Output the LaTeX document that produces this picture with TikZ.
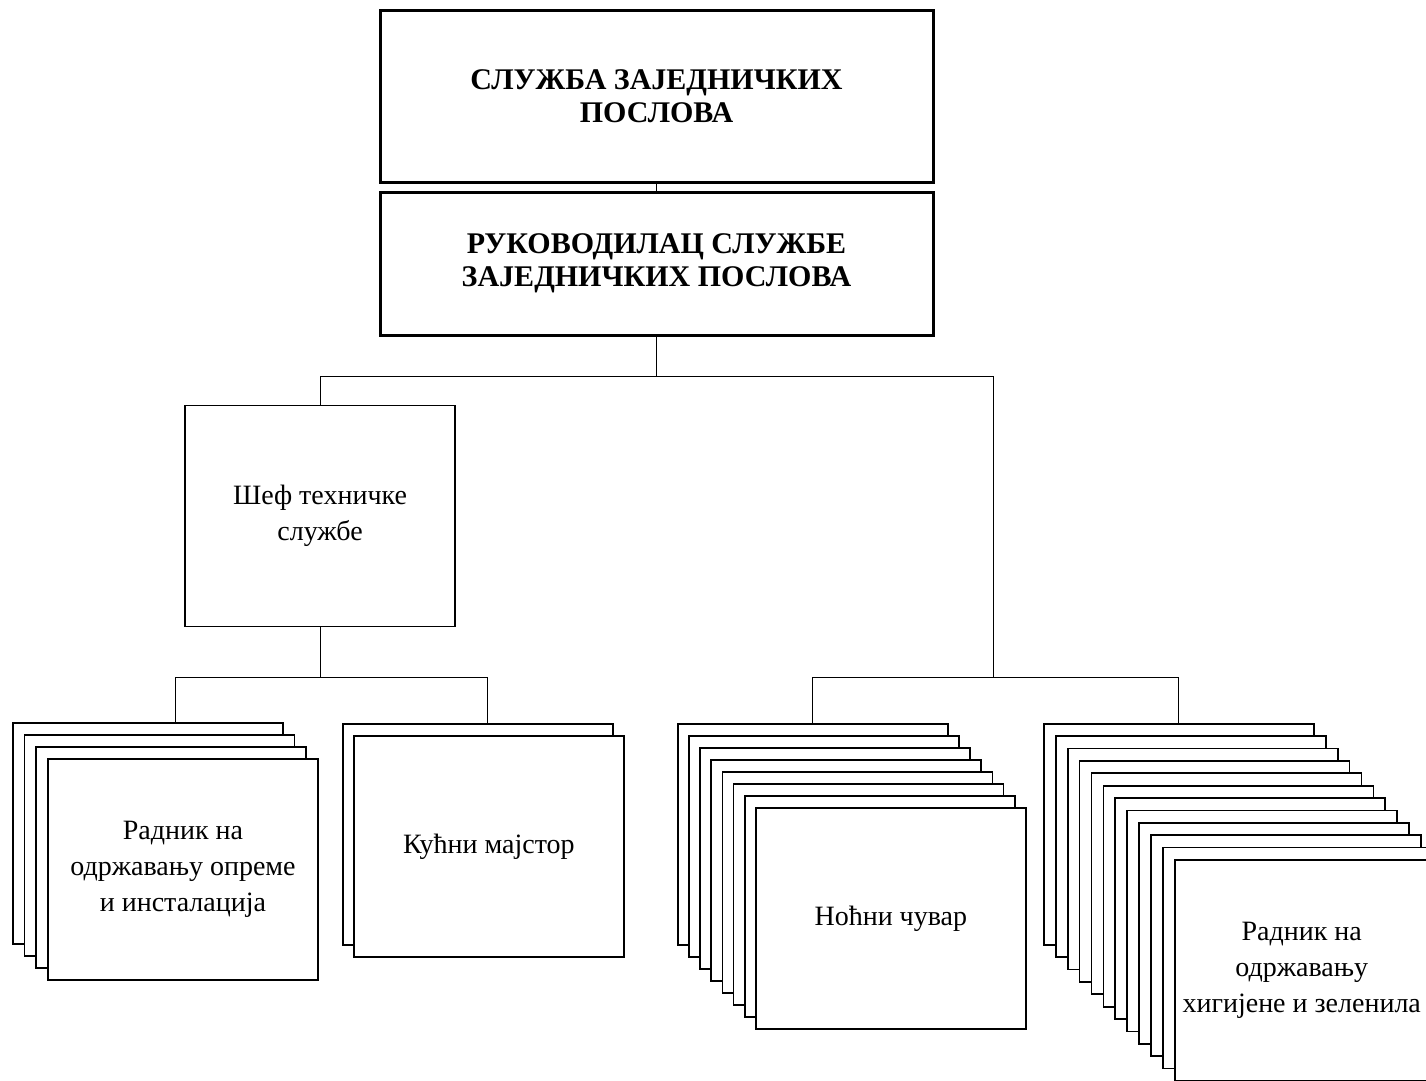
\documentclass[tikz,border=0pt]{standalone}
\usepackage{fontspec}
\setmainfont{Liberation Serif}
\usetikzlibrary{calc,positioning}

\begin{document}
\begin{tikzpicture}[x=1pt,y=-1pt]

\tikzset{headbox/.style={draw,fill=white,line width=3pt,minimum width=553pt,inner sep=0pt,align=center,font=\bfseries\fontsize{30}{33}\selectfont},
jobbox/.style={draw,fill=white,line width=1.7pt,minimum width=270pt,minimum height=221pt,inner sep=0pt,align=center,font=\fontsize{28}{36}\selectfont},
jobtext/.style={align=center,inner sep=0pt,font=\fontsize{28}{36}\selectfont},
link/.style={line width=1pt}}

\clip (0,0) rectangle (1426,1080);

% Head boxes
\node[headbox,minimum height=172pt] (sluzba) at (656.5,96) {СЛУЖБА ЗАЈЕДНИЧКИХ\\ПОСЛОВА};
\node[headbox,minimum height=143pt] (ruk) at (656.5,263.5) {РУКОВОДИЛАЦ СЛУЖБЕ\\ЗАЈЕДНИЧКИХ ПОСЛОВА};

% Chief of technical service
\node[jobbox] (sef) at (320,516) {Шеф техничке\\службе};

% stacks of workers
\foreach \i in {1,2,3} \node[jobbox,anchor=north west] (odr\i) at ($(12,722) + {\i-1}*(11.7,12)$) {};
\node[jobbox,anchor=north west] (odr4) at ($(12,722) + 3*(11.7,12)$) {Радник на\\одржавању опреме\\и инсталација};

\node[jobbox,anchor=north west] (kuc1) at (342,723) {};
\node[jobbox,anchor=north west] (kuc2) at ($(kuc1.north west) + (11,12)$) {Кућни мајстор};

\foreach \i in {1,...,7} \node[jobbox,anchor=north west] (noc\i) at ($(677,723) + {\i-1}*(11.14,12)$) {};
\node[jobbox,anchor=north west] (noc8) at ($(677,723) + 7*(11.14,12)$) {Ноћни чувар};

\foreach \i in {1,...,12} \node[jobbox,anchor=north west] (hig\i) at ($(1043,723) + {\i-1}*(11.9,12.36)$) {};
\node[jobtext] (higtext) at ($(hig12) + (-8,0)$) {Радник на\\одржавању\\хигијене и зеленила};

% Edges
\coordinate (rightbus) at (993,677);
\draw[link] (sluzba) -- (ruk);
\draw[link] (ruk.south) -- ++(0,40) -| (sef.north);
\draw[link] (ruk.south) ++(0,40) -| (rightbus);
\draw[link] (sef.south) -- ++(0,50) -| ($(odr1.north) + (28,0)$);
\draw[link] (sef.south) ++(0,50) -| ($(kuc1.north) + (10,0)$);
\draw[link] (rightbus) -| (noc1.north);
\draw[link] (rightbus) -| (hig1.north);

\end{tikzpicture}
\end{document}
